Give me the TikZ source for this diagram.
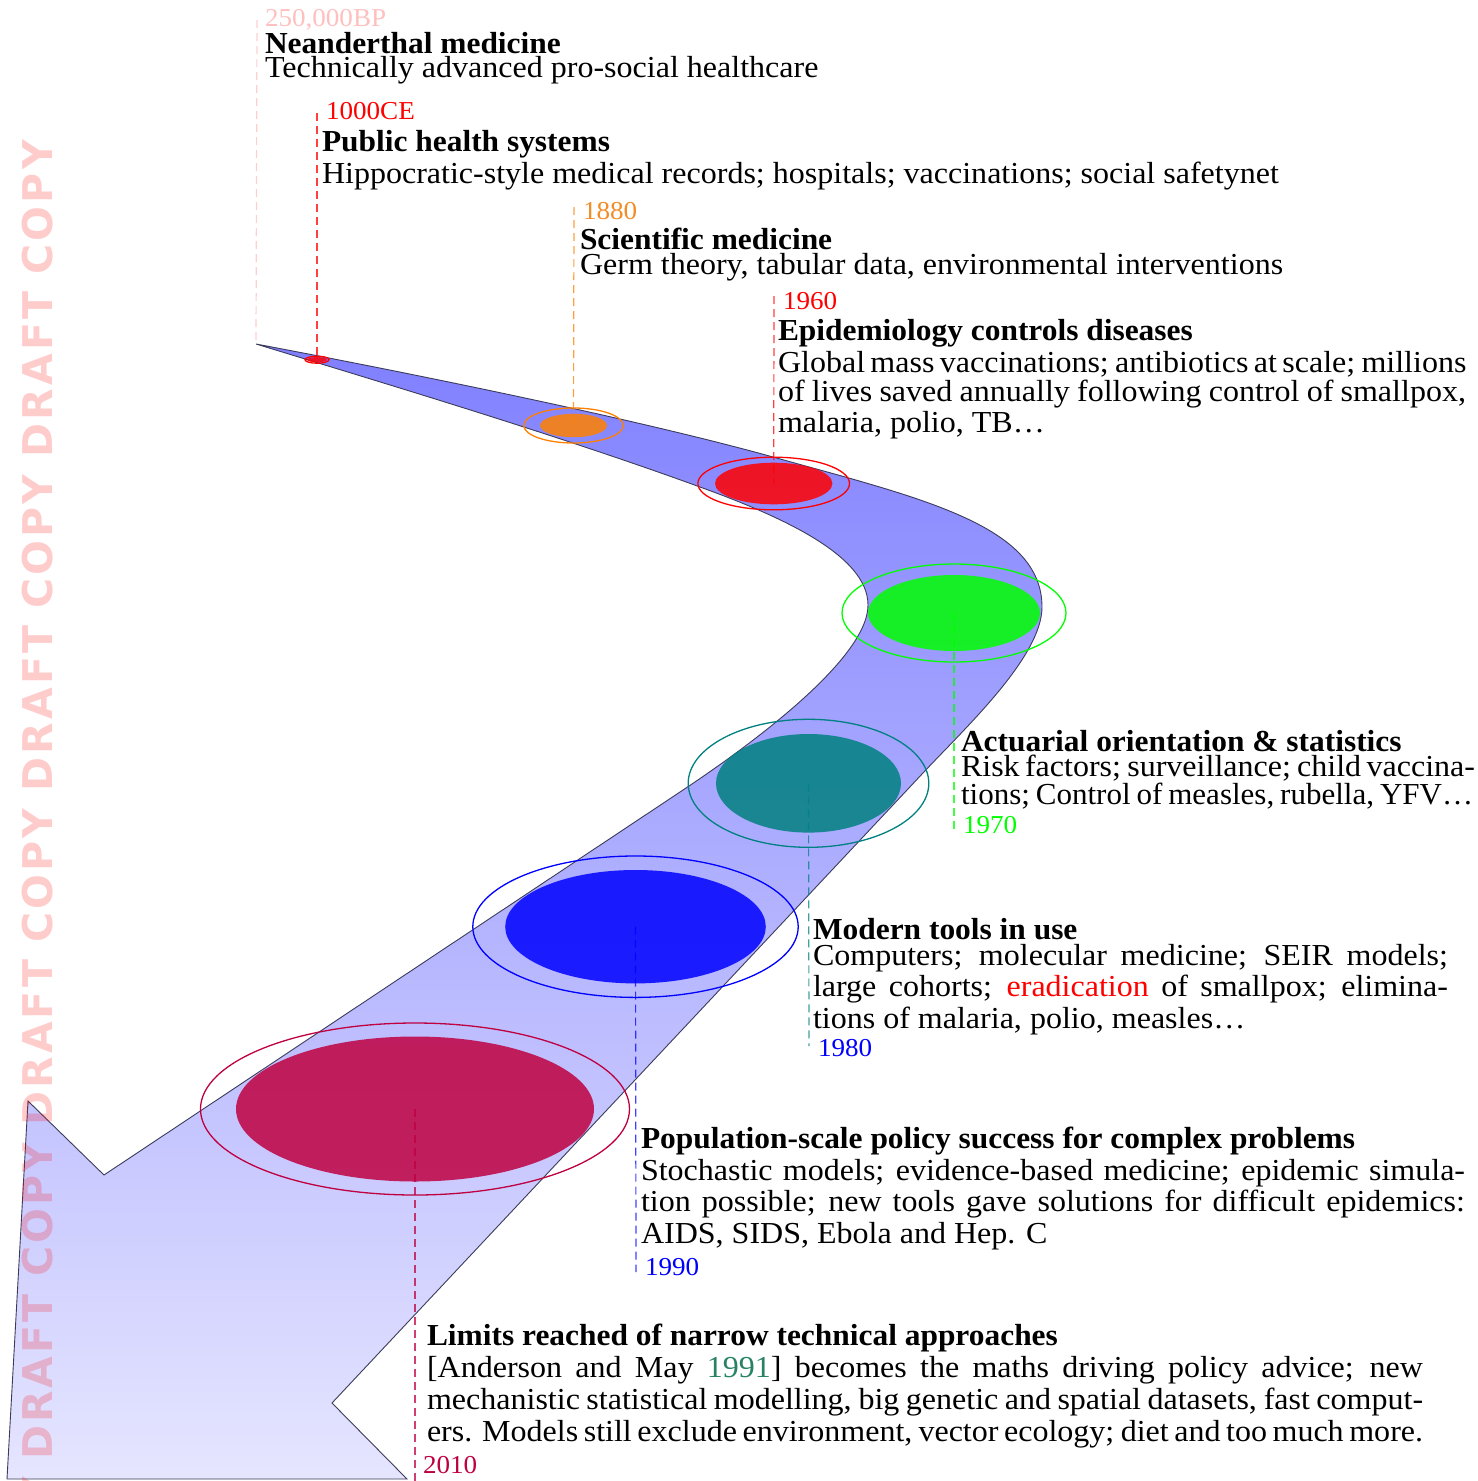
\documentclass[tikz,border=0pt]{standalone}
\usepackage{fontspec}
\setmainfont{Liberation Serif}[FakeStretch=1.05, BoldFeatures={FakeStretch=1.03}]
\newfontfamily\wmfont{DejaVu Sans}[LetterSpace=7.5]
\usetikzlibrary{shapes.geometric}
\definecolor{citecol}{RGB}{40,130,100}
\definecolor{bandline}{RGB}{60,60,90}
\definecolor{yrorange}{RGB}{242,140,40}
\begin{document}
\begin{tikzpicture}[x=1pt,y=-1pt,
  txt/.style={anchor=base west, inner sep=0pt, outer sep=0pt, font=\fontsize{30.5}{33}\selectfont},
  hd/.style={anchor=base west, inner sep=0pt, outer sep=0pt, font=\fontsize{30.5}{33}\selectfont\bfseries},
  yr/.style={anchor=base west, inner sep=0pt, outer sep=0pt, font=\fontsize{25.8}{28}\selectfont},
  dotfill/.style={ellipse, inner sep=0pt, draw=none, fill=#1, fill opacity=0.85},
  ring/.style={ellipse, inner sep=0pt, draw=#1, line width=1.3pt},
  drop/.style={draw=#1, draw opacity=0.75, line width=1.2pt, dash pattern=on 8pt off 5pt}]
\useasboundingbox (0,0) rectangle (1478,1481);

% road / arrow band
\coordinate (tip) at (256,344);
\path[draw=bandline, line width=0.9pt, line join=miter, top color=blue!50, bottom color=blue!10]
  (tip) .. controls (420,375) and (640,420) .. (773,457)
  .. controls (920,498) and (1042,525) .. (1042,607)
  .. controls (1042,657) and (964,729) .. (923,773)
  -- (332,1403) -- (407,1479) -- (7,1479) -- (28,1101) -- (104,1175) -- (680,792)
  .. controls (745,749) and (868,660) .. (868,605)
  .. controls (868,555) and (780,516) .. (700,487)
  .. controls (560,436) and (400,388) .. (tip) -- cycle;

% milestone discs
\node[dotfill=red, minimum width=20pt, minimum height=5.2pt] (d2) at (317,359.7) {};
\node[ring=red, minimum width=24pt, minimum height=7pt] (r2) at (317,359.7) {};
\node[dotfill=orange, minimum width=67pt, minimum height=23.4pt] (d3) at (573.5,425.5) {};
\node[ring=orange, minimum width=99.4pt, minimum height=35pt] (r3) at (573.5,425.5) {};
\node[dotfill=red, minimum width=117.4pt, minimum height=41.6pt] (d4) at (773.7,483.5) {};
\node[ring=red, minimum width=151.6pt, minimum height=52.6pt] (r4) at (773.7,483.5) {};
\node[dotfill=green, minimum width=172pt, minimum height=76pt] (d5) at (954,613) {};
\node[ring=green, minimum width=224pt, minimum height=98pt] (r5) at (954,613) {};
\node[dotfill=teal, minimum width=185pt, minimum height=98.6pt] (d6) at (808.5,783.3) {};
\node[ring=teal, minimum width=240.6pt, minimum height=128pt] (r6) at (808.5,783.3) {};
\node[dotfill=blue, minimum width=260.6pt, minimum height=113.4pt] (d7) at (635.5,926.7) {};
\node[ring=blue, minimum width=325.4pt, minimum height=141.4pt] (r7) at (635.5,926.7) {};
\node[dotfill=purple, minimum width=358pt, minimum height=145pt] (d8) at (415,1109) {};
\node[ring=purple, minimum width=429pt, minimum height=172pt] (r8) at (415,1109) {};

% dashed drop lines
\coordinate (e1) at (257,20);
\coordinate (e2) at (317,113);
\coordinate (e3) at (574,207);
\coordinate (e4) at (774,296);
\coordinate (e5) at (954,832);
\coordinate (e6) at (809,1046);
\coordinate (e7) at (636,1272);
\coordinate (e8) at (415,1481);
\draw[drop=pink] (e1) -- (tip);
\draw[drop=red] (e2) -- (d2.center);
\draw[drop=orange] (e3) -- (d3.center);
\draw[drop=red] (e4) -- (d4.center);
\draw[drop=green] (d5.center) -- (e5);
\draw[drop=teal] (d6.center) -- (e6);
\draw[drop=blue] (d7.center) -- (e7);
\draw[drop=purple] (d8.center) -- (e8);

% texts
\node[yr, text=pink] (y1) at (265,26.7) {250,000BP};
\node[hd] (h1) at (265,53.3) {Neanderthal medicine};
\node[txt] (b1) at (265,77.3) {Technically advanced pro-social healthcare};

\node[yr, text=red] (y2) at (326,119.3) {1000CE};
\node[hd] (h2) at (322,151.7) {Public health systems};
\node[txt] (b2) at (322,183.3) {Hippocratic-style medical records; hospitals; vaccinations; social safetynet};

\node[yr, text=yrorange] (y3) at (583,219) {1880};
\node[hd] (h3) at (580,249.5) {Scientific medicine};
\node[txt] (b3) at (580,274.5) {Germ theory, tabular data, environmental interventions};

\node[yr, text=red] (y4) at (783,309.5) {1960};
\node[hd] (h4) at (778,340.5) {Epidemiology controls diseases};
\node[txt] (b4a) at (778,372) {\makebox[688pt][s]{Global mass vaccinations; antibiotics at scale; millions}};
\node[txt] (b4b) at (778,401) {\makebox[688pt][s]{of lives saved annually following control of smallpox,}};
\node[txt] (b4c) at (778,432) {malaria, polio, TB\ldots};

\node[hd] (h5) at (961,751.5) {Actuarial orientation \& statistics};
\node[txt] (b5a) at (961,776.5) {\makebox[512pt][s]{Risk factors; surveillance; child vaccina-}};
\node[txt] (b5b) at (961,804.5) {\resizebox{512pt}{\height}{\spaceskip=0.2em tions; Control of measles, rubella, YFV\ldots}};
\node[yr, text=green] (y5) at (963,833.7) {1970};

\node[hd] (h6) at (813,939.5) {Modern tools in use};
\node[txt] (b6a) at (813,965.5) {\makebox[635pt][s]{Computers; molecular medicine; SEIR models;}};
\node[txt] (b6b) at (813,996.5) {\makebox[635pt][s]{large cohorts; \textcolor{red}{eradication} of smallpox; elimina-}};
\node[txt] (b6c) at (813,1028.5) {tions of malaria, polio, measles\ldots};
\node[yr, text=blue] (y6) at (818,1056.7) {1980};

\node[hd] (h7) at (641,1148.5) {Population-scale policy success for complex problems};
\node[txt] (b7a) at (641,1180.5) {\makebox[824pt][s]{Stochastic models; evidence-based medicine; epidemic simula-}};
\node[txt] (b7b) at (641,1211.5) {\makebox[824pt][s]{tion possible; new tools gave solutions for difficult epidemics:}};
\node[txt] (b7c) at (641,1243.5) {AIDS, SIDS, Ebola and Hep. C};
\node[yr, text=blue] (y7) at (645,1275.7) {1990};

\node[hd] (h8) at (427,1345.5) {Limits reached of narrow technical approaches};
\node[txt] (b8a) at (427,1377.5) {\makebox[996pt][s]{[Anderson and May \textcolor{citecol}{1991}] becomes the maths driving policy advice; new}};
\node[txt] (b8b) at (427,1409.5) {\makebox[996pt][s]{mechanistic statistical modelling, big genetic and spatial datasets, fast comput-}};
\node[txt] (b8c) at (427,1441.5) {\makebox[996pt][s]{ers. Models still exclude environment, vector ecology; diet and too much more.}};
\node[yr, text=purple] (y8) at (423,1473.7) {2010};

% watermark
\begin{scope}
\clip (0,0) rectangle (1478,1481);
\node[rotate=90, anchor=base east, inner sep=0pt, text=red, text opacity=0.2,
  font=\fontsize{41}{41}\wmfont\bfseries] (wm) at (52,140) {DRAFT COPY DRAFT COPY DRAFT COPY DRAFT COPY DRAFT COPY};
\end{scope}
\end{tikzpicture}
\end{document}
